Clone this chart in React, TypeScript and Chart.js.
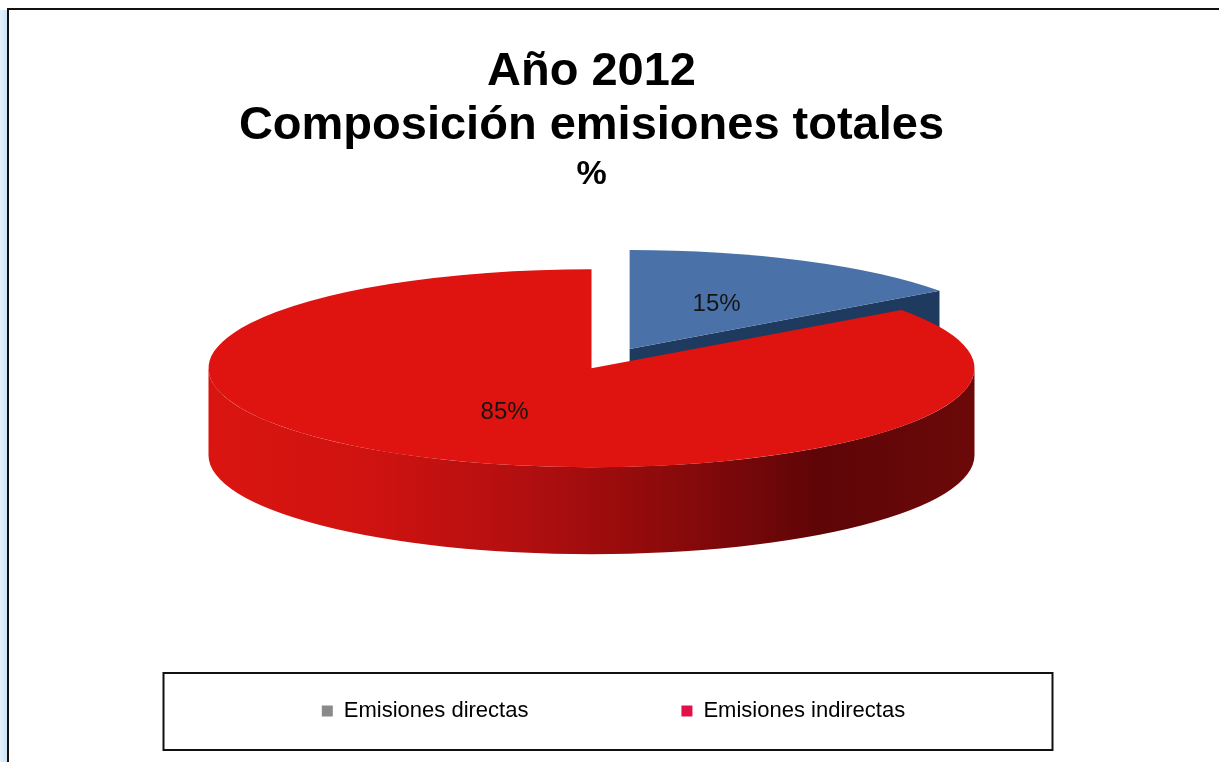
import React, { useEffect, useRef } from "react";
import { Chart, registerables } from "chart.js";

Chart.register(...registerables);

// ---- data ----
const CATEGORIES = ["Emisiones directas", "Emisiones indirectas"];
const VALUES = [15, 85];
const TITLE_LINES = ["Año 2012", "Composición emisiones totales"];
const SUBTITLE = "%";

// ---- styles ----
const TOP_COLORS = ["#4A72A8", "#DF130F"];
const FACE_COLORS = ["#1E3A5E", "#7A0909"];
const SIDE_STOPS = [
  ["#2E5585", "#233F66", "#1A3050"],
  ["#DA1510", "#D01310", "#B40F10", "#8C0A0B", "#5E0507", "#6C0909"],
];
const LEGEND_COLORS = ["#8A8A8A", "#E2104A"];
const EXPLODE = [84, 0];
const TILT = 0.2585;
const DEPTH = 87;
const RADIUS = 383;
const FAMILY = "'Liberation Sans', Arial, sans-serif";
const LEGEND_FONT_SIZE = 22;
const LEGEND_PADDING = 153;
const LEGEND_SHIFT = 22;

const pie3d = {
  id: "pie3d",
  beforeDatasetsDraw(chart: any) {
    const ctx: CanvasRenderingContext2D = chart.ctx;
    const meta = chart.getDatasetMeta(0);
    const arcs: any[] = meta.data;
    if (!arcs.length) return;
    const cx = arcs[0].x;
    const cy = arcs[0].y;
    const shifts = arcs.map((a, i) => {
      const mid = (a.startAngle + a.endAngle) / 2;
      return {
        dx: Math.cos(mid) * EXPLODE[i],
        dy: Math.sin(mid) * EXPLODE[i] * TILT,
      };
    });

    // radial cut faces
    arcs.forEach((a, i) => {
      const R = a.outerRadius;
      const x0 = cx + shifts[i].dx;
      const y0 = cy + shifts[i].dy;
      const faces: number[] = [];
      if (-Math.cos(a.startAngle) > 1e-6) faces.push(a.startAngle);
      if (Math.cos(a.endAngle) > 1e-6) faces.push(a.endAngle);
      faces.forEach((t) => {
        const ex = x0 + Math.cos(t) * R;
        const ey = y0 + Math.sin(t) * R * TILT;
        ctx.beginPath();
        ctx.moveTo(x0, y0);
        ctx.lineTo(ex, ey);
        ctx.lineTo(ex, ey + DEPTH);
        ctx.lineTo(x0, y0 + DEPTH);
        ctx.closePath();
        ctx.fillStyle = FACE_COLORS[i];
        ctx.fill();
      });
    });

    // outer curved sides (front-facing part only)
    arcs.forEach((a, i) => {
      const R = a.outerRadius;
      const x0 = cx + shifts[i].dx;
      const y0 = cy + shifts[i].dy;
      const grad = ctx.createLinearGradient(x0 - R, 0, x0 + R, 0);
      const stops = SIDE_STOPS[i];
      stops.forEach((c, k) => grad.addColorStop(k / (stops.length - 1), c));
      for (let k = -1; k <= 1; k++) {
        const lo = Math.max(a.startAngle, 2 * Math.PI * k);
        const hi = Math.min(a.endAngle, Math.PI + 2 * Math.PI * k);
        if (hi - lo <= 1e-6) continue;
        ctx.beginPath();
        ctx.ellipse(x0, y0, R, R * TILT, 0, lo, hi, false);
        ctx.ellipse(x0, y0 + DEPTH, R, R * TILT, 0, hi, lo, true);
        ctx.closePath();
        ctx.fillStyle = grad;
        ctx.fill();
      }
    });

    // top faces, drawn by the library's arc elements in a tilted frame
    arcs.forEach((a, i) => {
      ctx.save();
      ctx.translate(cx + shifts[i].dx, cy + shifts[i].dy);
      ctx.scale(1, TILT);
      ctx.translate(-cx, -cy);
      a.draw(ctx);
      ctx.restore();
    });

    // percentage labels
    const total = VALUES.reduce((s, v) => s + v, 0);
    ctx.save();
    ctx.font = `24px ${FAMILY}`;
    ctx.textAlign = "center";
    ctx.textBaseline = "middle";
    ctx.fillStyle = "#151515";
    arcs.forEach((a, i) => {
      const p = a.tooltipPosition(false);
      const txt = `${Math.round((VALUES[i] / total) * 100)}%`;
      ctx.fillText(txt, p.x + shifts[i].dx, cy + (p.y - cy) * TILT + shifts[i].dy);
    });
    ctx.restore();
    return false;
  },
};

const legendFrame = {
  id: "legendFrame",
  beforeDraw(chart: any) {
    const lg = chart.legend;
    if (!lg || lg._shifted === chart.width) return;
    lg.left += LEGEND_SHIFT;
    lg.right += LEGEND_SHIFT;
    lg._shifted = chart.width;
  },
  afterDraw(chart: any) {
    const lg = chart.legend;
    if (!lg) return;
    const ctx: CanvasRenderingContext2D = chart.ctx;
    const itemY = lg.top + LEGEND_PADDING + LEGEND_FONT_SIZE / 2;
    const c = (lg.left + lg.right) / 2;
    ctx.save();
    ctx.strokeStyle = "#111";
    ctx.lineWidth = 2;
    ctx.strokeRect(c - 450, itemY - 38, 889, 77);
    ctx.restore();
  },
};

export default function App() {
  const ref = useRef<HTMLCanvasElement | null>(null);

  useEffect(() => {
    if (!ref.current) return;
    const chart = new Chart(ref.current, {
      type: "pie",
      data: {
        labels: CATEGORIES,
        datasets: [
          {
            data: VALUES,
            backgroundColor: TOP_COLORS,
            borderWidth: 0,
            radius: RADIUS,
            clip: false,
          } as any,
        ],
      },
      options: {
        responsive: false,
        animation: false,
        events: [],
        layout: { padding: { left: 0, right: 36, top: 0, bottom: 30 } },
        plugins: {
          title: {
            display: true,
            text: TITLE_LINES,
            color: "#000",
            font: { family: FAMILY, size: 47, weight: "bold", lineHeight: 1.15 },
            padding: { top: 45, bottom: 0 },
          },
          subtitle: {
            display: true,
            text: SUBTITLE,
            color: "#000",
            font: { family: FAMILY, size: 34, weight: "bold", lineHeight: 0.85 },
            padding: { top: 7.5, bottom: 0 },
          },
          legend: {
            position: "bottom",
            labels: {
              color: "#000",
              boxWidth: 11,
              boxHeight: 11,
              padding: LEGEND_PADDING,
              font: { family: FAMILY, size: LEGEND_FONT_SIZE },
              generateLabels: () =>
                CATEGORIES.map((t, i) => ({
                  text: t,
                  fillStyle: LEGEND_COLORS[i],
                  strokeStyle: LEGEND_COLORS[i],
                  lineWidth: 0,
                  hidden: false,
                  index: i,
                  fontColor: "#000",
                })),
            },
          },
          tooltip: { enabled: false },
        },
      } as any,
      plugins: [pie3d, legendFrame],
    });
    return () => chart.destroy();
  }, []);

  return (
    <div
      style={{
        position: "fixed",
        left: 0,
        top: 0,
        width: 1219,
        height: 762,
        background: "#fff",
        overflow: "hidden",
      }}
    >
      <div
        style={{
          position: "absolute",
          left: 0,
          top: 10,
          width: 7,
          bottom: 0,
          background: "linear-gradient(90deg, #e4f1fb, #cfe4f5)",
        }}
      />
      <div
        style={{
          position: "absolute",
          left: 7,
          top: 8,
          right: 0,
          bottom: -4,
          borderTop: "2px solid #111",
          borderLeft: "2px solid #111",
        }}
      />
      <canvas
        ref={ref}
        width={1219}
        height={762}
        style={{ position: "absolute", left: 0, top: 0, width: 1219, height: 762 }}
      />
    </div>
  );
}
